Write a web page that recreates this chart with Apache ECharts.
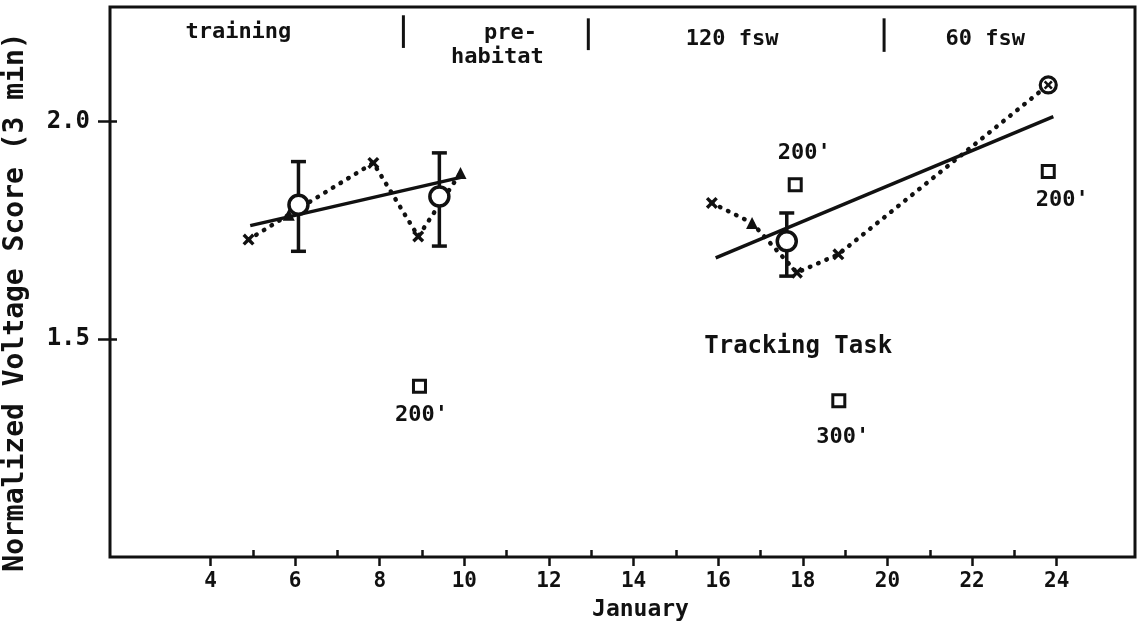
<!DOCTYPE html>
<html><head><meta charset="utf-8">
<script src="https://cdn.jsdelivr.net/npm/echarts@6/dist/echarts.min.js"></script>
<style>html,body{margin:0;padding:0;background:#fff}#c{width:1143px;height:628px}</style>
</head><body><div id="c"></div>
<script>
// ---- data ----
const xTickDays = [4, 6, 8, 10, 12, 14, 16, 18, 20, 22, 24];
const xMinorDays = [5, 7, 9, 11, 13, 15, 17, 19, 21, 23];
const yTicks = [1.5, 2.0];

const meanDays = [6.08, 9.41, 17.62];
const meanValues = [1.809, 1.828, 1.725];
const errLow = [1.702, 1.714, 1.645];
const errHigh = [1.908, 1.928, 1.790];

const trendLeftDays = [4.94, 9.97];
const trendLeftValues = [1.761, 1.873];
const trendRightDays = [15.94, 23.92];
const trendRightValues = [1.687, 2.011];

const dailyLeftDays = [4.90, 5.85, 7.85, 8.91, 9.91];
const dailyLeftValues = [1.729, 1.786, 1.905, 1.736, 1.882];
const dailyLeftMarks = ['x', 'tri', 'x', 'x', 'tri'];
const dailyRightDays = [15.85, 16.80, 17.86, 18.84, 23.80];
const dailyRightValues = [1.813, 1.767, 1.653, 1.695, 2.084];
const dailyRightMarks = ['x', 'tri', 'x', 'x', 'cx'];

const depthDays = [8.94, 17.82, 18.85, 23.80];
const depthValues = [1.392, 1.855, 1.359, 1.885];
const depthLabels = ["200'", "200'", "300'", "200'"];
const depthLabelSide = ['bottom', 'top', 'bottom', 'bottom'];

const phaseBoundDays = [8.56, 12.93, 19.92];
const phaseBoundLow = [2.169, 2.164, 2.160];
const phaseBoundHigh = [2.244, 2.237, 2.237];
const phaseLabels = ['training', 'pre-', 'habitat', '120 fsw', '60 fsw'];
const phaseLabelDays = [4.66, 11.09, 10.78, 16.33, 22.31];
const phaseLabelValues = [2.205, 2.203, 2.148, 2.188, 2.188];

const noteLabels = ['Tracking Task'];
const noteDays = [17.89];
const noteValues = [1.482];

// ---- styling ----
const FONT = "'DejaVu Sans Mono', 'Liberation Mono', monospace";
const INK = '#111';
const X_PATH = 'path://M2,0 L5,3 L8,0 L10,2 L7,5 L10,8 L8,10 L5,7 L2,10 L0,8 L3,5 L0,2 Z';
const depthLabelDist = [10, 13, 18, 10];
const depthLabelShift = [2, 9, 4, 14];

function markerItems(days, vals, marks) {
  const out = [];
  days.forEach((d, i) => {
    const m = marks[i];
    if (m === 'x') out.push({ value: [d, vals[i]], symbol: X_PATH, symbolSize: 12, itemStyle: { color: INK, opacity: 1 } });
    else if (m === 'tri') out.push({ value: [d, vals[i]], symbol: 'triangle', symbolSize: 12, itemStyle: { color: INK, opacity: 1 } });
    else if (m === 'cx') {
      out.push({ value: [d, vals[i]], symbol: 'circle', symbolSize: 16, itemStyle: { color: '#fff', borderColor: INK, borderWidth: 3.2, opacity: 1 } });
      out.push({ value: [d, vals[i]], symbol: X_PATH, symbolSize: 9, itemStyle: { color: INK, opacity: 1 } });
    }
  });
  return out;
}

function textSeries(labels, days, vals, size) {
  return {
    type: 'custom', z: 20, silent: true,
    data: days.map((d, i) => [d, vals[i]]),
    renderItem: function (params, api) {
      const p = api.coord([api.value(0), api.value(1)]);
      return {
        type: 'text', x: p[0], y: p[1],
        style: { text: labels[params.dataIndex], fontFamily: FONT, fontSize: size, fontWeight: 'bold',
                 fill: INK, align: 'center', verticalAlign: 'middle' }
      };
    }
  };
}

const chart = echarts.init(document.getElementById('c'), null, { renderer: 'canvas' });
const xMin = 1.626, xMax = 25.85, yMin = 1.0, yMax = 2.263;

const option = {
  animation: false,
  backgroundColor: '#fff',
  grid: { left: 110, right: 8, top: 7, bottom: 71, outerBoundsMode: 'none', containLabel: false,
          show: true, borderColor: INK, borderWidth: 3, backgroundColor: 'transparent' },
  xAxis: [
    {
      type: 'value', min: xMin, max: xMax, position: 'bottom',
      axisLine: { show: false }, splitLine: { show: false },
      axisTick: { show: true, customValues: xTickDays, length: 9, lineStyle: { color: INK, width: 2.5 } },
      axisLabel: { customValues: xTickDays, margin: 14, color: INK, fontFamily: FONT, fontSize: 21, fontWeight: 'bold' },
      name: 'January', nameLocation: 'middle', nameGap: 42,
      nameTextStyle: { color: INK, fontFamily: FONT, fontSize: 23, fontWeight: 'bold', padding: [0, 0, 0, 36] }
    },
    {
      type: 'value', min: xMin, max: xMax, position: 'bottom',
      axisLine: { show: false }, splitLine: { show: false },
      axisTick: { show: true, inside: true, customValues: xMinorDays, length: 7, lineStyle: { color: INK, width: 2.5 } },
      axisLabel: { show: false }
    }
  ],
  yAxis: [
    {
      type: 'value', min: yMin, max: yMax, position: 'left',
      axisLine: { show: false }, splitLine: { show: false },
      axisTick: { show: true, customValues: yTicks, length: 12, lineStyle: { color: INK, width: 2.5 } },
      axisLabel: { customValues: yTicks, formatter: v => v.toFixed(1), margin: 20, color: INK,
                   fontFamily: FONT, fontSize: 24, fontWeight: 'bold' },
      name: 'Normalized Voltage Score (3 min)', nameLocation: 'middle', nameRotate: 90, nameGap: 80,
      nameTextStyle: { color: INK, fontFamily: FONT, fontSize: 28, fontWeight: 'bold', padding: [0, 40, 0, 0] }
    },
    {
      type: 'value', min: yMin, max: yMax, position: 'left',
      axisLine: { show: false }, splitLine: { show: false },
      axisTick: { show: true, inside: true, customValues: yTicks, length: 7, lineStyle: { color: INK, width: 2.5 } },
      axisLabel: { show: false }
    }
  ],
  series: [
    {
      type: 'line', name: 'trend-left', showSymbol: false, z: 3,
      data: trendLeftDays.map((d, i) => [d, trendLeftValues[i]]),
      lineStyle: { color: INK, width: 3.5 }
    },
    {
      type: 'line', name: 'trend-right', showSymbol: false, z: 3,
      data: trendRightDays.map((d, i) => [d, trendRightValues[i]]),
      lineStyle: { color: INK, width: 3.5 }
    },
    {
      type: 'line', name: 'daily-left', showSymbol: false, z: 3,
      data: dailyLeftDays.map((d, i) => [d, dailyLeftValues[i]]),
      lineStyle: { color: INK, width: 4.5, type: [0.5, 8.5], cap: 'round' }
    },
    {
      type: 'line', name: 'daily-right', showSymbol: false, z: 3,
      data: dailyRightDays.map((d, i) => [d, dailyRightValues[i]]),
      lineStyle: { color: INK, width: 4.5, type: [0.5, 8.5], cap: 'round' }
    },
    {
      type: 'scatter', name: 'daily-marks', z: 6,
      data: markerItems(dailyLeftDays, dailyLeftValues, dailyLeftMarks)
        .concat(markerItems(dailyRightDays, dailyRightValues, dailyRightMarks))
    },
    {
      type: 'custom', name: 'error', z: 4,
      data: meanDays.map((d, i) => [d, errLow[i], errHigh[i]]),
      renderItem: function (params, api) {
        const x = api.value(0);
        const lo = api.coord([x, api.value(1)]);
        const hi = api.coord([x, api.value(2)]);
        const w = 7.5;
        const st = { stroke: INK, lineWidth: 3.5 };
        return {
          type: 'group', children: [
            { type: 'line', shape: { x1: lo[0], y1: lo[1], x2: hi[0], y2: hi[1] }, style: st },
            { type: 'line', shape: { x1: lo[0] - w, y1: lo[1], x2: lo[0] + w, y2: lo[1] }, style: st },
            { type: 'line', shape: { x1: hi[0] - w, y1: hi[1], x2: hi[0] + w, y2: hi[1] }, style: st }
          ]
        };
      }
    },
    {
      type: 'scatter', name: 'mean', z: 8, symbol: 'circle', symbolSize: 19,
      data: meanDays.map((d, i) => [d, meanValues[i]]),
      itemStyle: { color: '#fff', borderColor: INK, borderWidth: 3.5, opacity: 1 }
    },
    {
      type: 'scatter', name: 'depth', z: 8, symbol: 'rect', symbolSize: 12,
      data: depthDays.map((d, i) => ({
        value: [d, depthValues[i]],
        label: { position: depthLabelSide[i], distance: depthLabelDist[i], offset: [depthLabelShift[i], 0] }
      })),
      itemStyle: { color: '#fff', borderColor: INK, borderWidth: 3, opacity: 1 },
      label: {
        show: true, color: INK, opacity: 1, fontFamily: FONT, fontSize: 22, fontWeight: 'bold',
        formatter: p => depthLabels[p.dataIndex]
      }
    },
    {
      type: 'custom', name: 'phase-sep', z: 5, silent: true,
      data: phaseBoundDays.map((d, i) => [d, phaseBoundLow[i], phaseBoundHigh[i]]),
      renderItem: function (params, api) {
        const a = api.coord([api.value(0), api.value(1)]);
        const b = api.coord([api.value(0), api.value(2)]);
        return { type: 'line', shape: { x1: a[0], y1: a[1], x2: b[0], y2: b[1] }, style: { stroke: INK, lineWidth: 3 } };
      }
    },
    textSeries(phaseLabels, phaseLabelDays, phaseLabelValues, 22),
    textSeries(noteLabels, noteDays, noteValues, 24)
  ]
};
chart.setOption(option);
</script>
</body></html>
